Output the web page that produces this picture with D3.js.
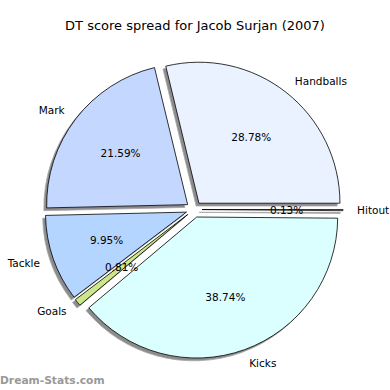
<!DOCTYPE html>
<html>
<head>
<meta charset="utf-8">
<script src="https://cdn.jsdelivr.net/npm/d3@7"></script>
<style>
	body { margin: 0; background: #fff; }
	svg { display: block; font-family: "DejaVu Sans", sans-serif; }
</style>
</head>
<body>
<div id="chart"></div>
<script>
// data
const categories = ["Handballs", "Mark", "Tackle", "Goals", "Kicks", "Hitout"];
const shares = [28.78, 21.59, 9.95, 0.81, 38.74, 0.13];
const colors = ["#eaf1ff", "#c4d8ff", "#b4d5ff", "#cce68a", "#dbffff", "#ffffff"];
const title = "DT score spread for Jacob Surjan (2007)";

const width = 390, height = 390;
const cx = 194, cy = 209.5, r = 141;
const explode = 8; // px, every wedge pulled out the same
const shadowOff = 2.8;

const svg = d3.select("#chart").append("svg")
	.attr("width", width)
	.attr("height", height);

svg.append("text")
	.attr("x", 195)
	.attr("y", 25)
	.attr("text-anchor", "middle")
	.attr("dominant-baseline", "central")
	.attr("font-size", 13)
	.text(title);

// matplotlib style: start at 3 o'clock, counterclockwise
const pie = d3.pie()
	.sort(null)
	.startAngle(Math.PI / 2)
	.endAngle(Math.PI / 2 - 2 * Math.PI);

const arcs = pie(shares).map((d, i) => {
	const mid = (d.startAngle + d.endAngle) / 2;
	return {
		...d,
		name: categories[i],
		color: colors[i],
		mid,
		ox: cx + explode * Math.sin(mid),
		oy: cy - explode * Math.cos(mid),
	};
});

const arc = d3.arc().innerRadius(0).outerRadius(r);

// shadows first
svg.append("g").selectAll("path")
	.data(arcs)
	.join("path")
	.attr("transform", (d) => `translate(${d.ox - shadowOff}, ${d.oy + shadowOff})`)
	.attr("d", arc)
	.attr("fill", "#8c8c8c")
	.attr("stroke", "#a8a8a8")
	.attr("stroke-width", 0.8);

svg.append("g").selectAll("path")
	.data(arcs)
	.join("path")
	.attr("transform", (d) => `translate(${d.ox}, ${d.oy})`)
	.attr("d", arc)
	.attr("fill", (d) => d.color)
	.attr("stroke", "#000")
	.attr("stroke-width", 0.8)
	.attr("stroke-linejoin", "miter");

// category labels at 1.1 r
svg.append("g").selectAll("text")
	.data(arcs)
	.join("text")
	.attr("x", (d) => d.ox + 1.1 * r * Math.sin(d.mid))
	.attr("y", (d) => d.oy - 1.1 * r * Math.cos(d.mid))
	.attr("text-anchor", (d) => (Math.sin(d.mid) > 0 ? "start" : "end"))
	.attr("dominant-baseline", "central")
	.attr("font-size", 10.5)
	.text((d) => d.name);

// percentages at 0.6 r
svg.append("g").selectAll("text")
	.data(arcs)
	.join("text")
	.attr("x", (d) => d.ox + 0.6 * r * Math.sin(d.mid))
	.attr("y", (d) => d.oy - 0.6 * r * Math.cos(d.mid))
	.attr("text-anchor", "middle")
	.attr("dominant-baseline", "central")
	.attr("font-size", 10.5)
	.text((d) => d.value.toFixed(2) + "%");

svg.append("text")
	.attr("x", 0)
	.attr("y", 380)
	.attr("dominant-baseline", "central")
	.attr("font-size", 10.7)
	.attr("font-weight", "bold")
	.attr("fill", "#999")
	.text("Dream-Stats.com");
</script>
</body>
</html>
